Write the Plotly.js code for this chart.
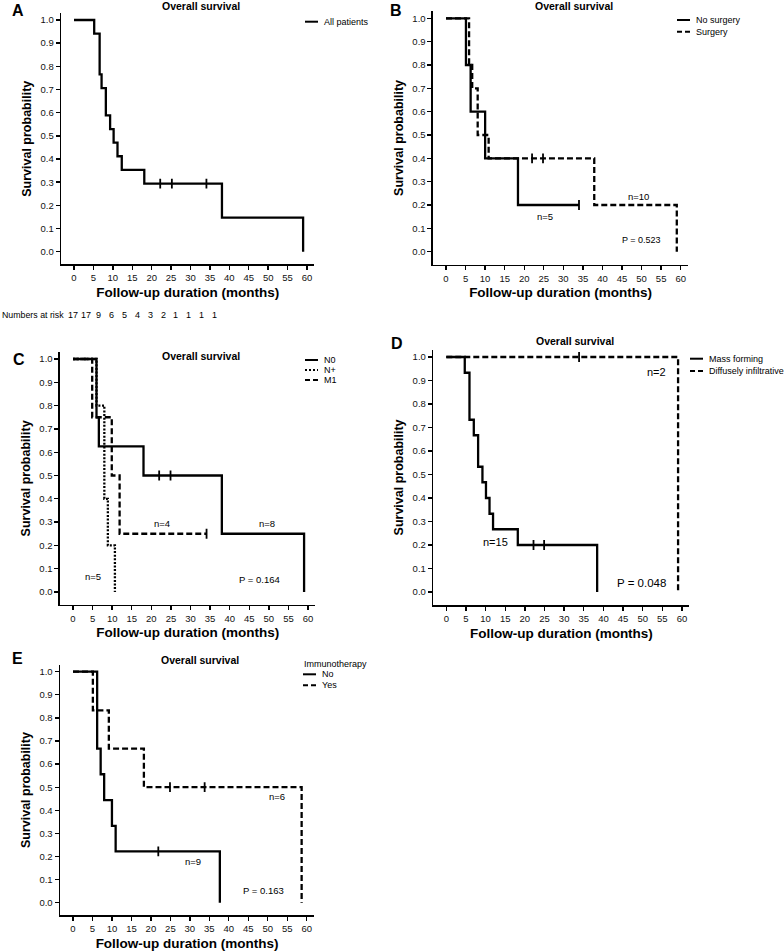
<!DOCTYPE html>
<html><head><meta charset="utf-8">
<script src="https://cdn.plot.ly/plotly-3.0.1.min.js"></script>
<style>html,body{margin:0;padding:0;background:#fff}#chart{width:784px;height:951px}</style>
</head><body><div id="chart"></div>
<script>
// ---------------- DATA ----------------
const xTickVals = [0,5,10,15,20,25,30,35,40,45,50,55,60];
const yTickVals = [0,0.1,0.2,0.3,0.4,0.5,0.6,0.7,0.8,0.9,1.0];
const panelTitle = "Overall survival";
const xTitle = "Follow-up duration (months)";
const yTitle = "Survival probability";

// Panel A: all patients
const allTimes = [0, 5.2, 6.6, 7.1, 8.2, 9.3, 10.2, 11.2, 12.3, 18.1, 38.1, 59.0];
const allSurv  = [1, 0.941, 0.765, 0.706, 0.588, 0.529, 0.471, 0.412, 0.353, 0.294, 0.147, 0];
const allCensor = [22.2, 25.2, 34.1];
const riskLabel = "Numbers at risk";
const numbersAtRisk = [17, 17, 9, 6, 5, 4, 3, 2, 1, 1, 1, 1];

// Panel B: surgery
const noSurgTimes = [0, 5.1, 6.3, 10.0, 18.4, 34.0];
const noSurgSurv  = [1, 0.8, 0.6, 0.4, 0.2, 0.2];
const noSurgCensor = [34.0];
const surgTimes = [0, 5.9, 6.7, 8.1, 10.9, 37.9, 59.0];
const surgSurv  = [1, 0.8, 0.7, 0.5, 0.4, 0.2, 0];
const surgCensor = [22.0, 24.8];

// Panel C: stage
const n0Times = [0, 6.0, 6.6, 18.0, 38.0, 59.0];
const n0Surv  = [1, 0.75, 0.625, 0.5, 0.25, 0];
const n0Censor = [22.0, 24.9];
const npTimes = [0, 6.0, 8.0, 8.9, 10.7];
const npSurv  = [1, 0.8, 0.4, 0.2, 0];
const npCensor = [];
const m1Times = [0, 4.9, 9.9, 11.9, 34.1];
const m1Surv  = [1, 0.75, 0.5, 0.25, 0.25];
const m1Censor = [34.1];

// Panel D: morphology
const massTimes = [0, 4.7, 5.9, 7.0, 8.1, 9.2, 10.1, 11.0, 11.9, 18.2, 38.4];
const massSurv  = [1, 0.933, 0.733, 0.667, 0.533, 0.467, 0.4, 0.333, 0.267, 0.2, 0];
const massCensor = [22.2, 24.9];
const diffTimes = [0, 59.0];
const diffSurv  = [1, 0];
const diffCensor = [33.8];

// Panel E: immunotherapy
const noImmTimes = [0, 6.2, 7.1, 8.0, 10.0, 10.95, 37.7];
const noImmSurv  = [1, 0.667, 0.556, 0.444, 0.333, 0.222, 0];
const noImmCensor = [21.9];
const yesImmTimes = [0, 5.1, 9.2, 18.2, 58.7];
const yesImmSurv  = [1, 0.833, 0.667, 0.5, 0];
const yesImmCensor = [24.9, 33.8];

// ---------------- LAYOUT HELPERS ----------------
const W = 784, H = 951;
const XR = [-3.3, 61.9], YR = [-0.055, 1.03];
const FONT = "Arial, 'Liberation Sans', Helvetica, sans-serif";
const geo = {
  A: {x0:74,    x60:307,   y1:20,    y0:251.7, ax:''},
  B: {x0:446,   x60:680.7, y1:18.3,  y0:251.7, ax:'2'},
  C: {x0:73,    x60:308,   y1:359,   y0:592,   ax:'3'},
  D: {x0:446.3, x60:682,   y1:357,   y0:592,   ax:'4'},
  E: {x0:73,    x60:306.7, y1:671.7, y0:902.7, ax:'5'}
};
const px = x => x / W;
const py = y => 1 - y / H;

function stepAt(times, surv, t) {
  let v = surv[0];
  for (let i = 0; i < times.length; i++) if (times[i] <= t) v = surv[i];
  return v;
}

const traces = [];
function addCurve(panel, times, surv, censor, dash) {
  const g = geo[panel];
  traces.push({
    type:'scatter', mode:'lines', x:times, y:surv,
    xaxis:'x'+g.ax, yaxis:'y'+g.ax, showlegend:false, hoverinfo:'skip',
    line:{shape:'hv', color:'#000', width:2.3, dash:dash}
  });
  if (censor.length) {
    traces.push({
      type:'scatter', mode:'markers', x:censor, y:censor.map(t => stepAt(times, surv, t)),
      xaxis:'x'+g.ax, yaxis:'y'+g.ax, showlegend:false, hoverinfo:'skip',
      marker:{symbol:'line-ns-open', size:7, color:'#000', line:{width:1.8, color:'#000'}}
    });
  }
}

const DASH = '6px,3px';
const DOT = '2px,1.6px';
addCurve('A', allTimes, allSurv, allCensor, 'solid');
addCurve('B', surgTimes, surgSurv, surgCensor, DASH);
addCurve('B', noSurgTimes, noSurgSurv, noSurgCensor, 'solid');
addCurve('C', m1Times, m1Surv, m1Censor, DASH);
addCurve('C', npTimes, npSurv, npCensor, DOT);
addCurve('C', n0Times, n0Surv, n0Censor, 'solid');
addCurve('D', diffTimes, diffSurv, diffCensor, DASH);
addCurve('D', massTimes, massSurv, massCensor, 'solid');
addCurve('E', yesImmTimes, yesImmSurv, yesImmCensor, DASH);
addCurve('E', noImmTimes, noImmSurv, noImmCensor, 'solid');

const layout = {
  width:W, height:H, margin:{l:0,r:0,t:0,b:0},
  paper_bgcolor:'#fff', plot_bgcolor:'#fff', showlegend:false,
  font:{family:FONT, color:'#000'},
  annotations:[], shapes:[]
};

Object.keys(geo).forEach(k => {
  const g = geo[k];
  const s = (g.x60 - g.x0) / 60;
  const sy = g.y0 - g.y1;
  const xd = [px(g.x0 + XR[0]*s), px(g.x0 + XR[1]*s)];
  const yd = [py(g.y0 - YR[0]*sy), py(g.y0 - YR[1]*sy)];
  const common = {
    showline:true, linecolor:'#000', linewidth:1.6, mirror:false,
    ticks:'outside', ticklen:4, tickwidth:1.4, tickcolor:'#000',
    showgrid:false, zeroline:false, fixedrange:true,
    tickfont:{family:FONT, size:9.5, color:'#111'}
  };
  layout['xaxis'+g.ax] = Object.assign({}, common, {
    domain:xd, range:XR, anchor:'y'+g.ax, tickvals:xTickVals,
    title:{text:'<b>'+xTitle+'</b>', font:{family:FONT, size:13.5, color:'#000'}, standoff:5}
  });
  layout['yaxis'+g.ax] = Object.assign({}, common, {
    domain:yd, range:YR, anchor:'x'+g.ax, tickvals:yTickVals, tickformat:'.1f',
    title:{text:'<b>'+yTitle+'</b>', font:{family:FONT, size:12.5, color:'#000'}, standoff:6}
  });
});

function txt(x, y, text, size, opts) {
  layout.annotations.push(Object.assign({
    xref:'paper', yref:'paper', x:px(x), y:py(y), text:text, showarrow:false,
    font:{family:FONT, size:size, color:'#000'}, xanchor:'center', yanchor:'middle'
  }, opts || {}));
}
function dtxt(panel, x, y, text, size) {
  const g = geo[panel];
  layout.annotations.push({
    xref:'x'+g.ax, yref:'y'+g.ax, x:x, y:y, text:text, showarrow:false,
    font:{family:FONT, size:size, color:'#000'}, xanchor:'center', yanchor:'middle'
  });
}
function legendItem(x, y, label, dash, size) {
  layout.shapes.push({type:'line', xref:'paper', yref:'paper',
    x0:px(x), x1:px(x+13), y0:py(y), y1:py(y),
    line:{color:'#000', width:2, dash:dash}});
  txt(x+17, y, label, size || 9, {xanchor:'left'});
}

// Panel labels and titles
const labels = [['A',18,0],['B',396,0],['C',19,349],['D',397,333],['E',17.5,648]];
labels.forEach(l => txt(l[1], l[2], '<b>'+l[0]+'</b>', 16, {yanchor:'top'}));
[[201,6],[574,6],[201,356],[575,341],[200,660]].forEach(p => txt(p[0], p[1], '<b>'+panelTitle+'</b>', 10.5));

// Legends
legendItem(305, 21.7, 'All patients', 'solid');
legendItem(677, 20, 'No surgery', 'solid');
legendItem(677, 31.7, 'Surgery', '5px,3px');
legendItem(305, 360, 'N0', 'solid');
legendItem(305, 370, 'N+', '2px,2px');
legendItem(305, 380, 'M1', '5px,3px');
legendItem(690, 358.7, 'Mass forming', 'solid');
legendItem(690, 371, 'Diffusely infiltrative', '5px,3px');
txt(301.7, 663.7, 'Immunotherapy', 9, {xanchor:'left'});
legendItem(303, 674.3, 'No', 'solid');
legendItem(303, 685.3, 'Yes', '5px,3px');

// Numbers at risk
txt(0, 315, riskLabel, 8.8, {xanchor:'left'});
numbersAtRisk.forEach((n, i) => txt(72.7 + i*12.9, 315, String(n), 9));

// In-plot annotations
dtxt('B', 49.3, 0.236, 'n=10', 9.5);
dtxt('B', 25.3, 0.15, 'n=5', 9.5);
dtxt('B', 50.1, 0.05, 'P = 0.523', 9);
dtxt('C', 22.6, 0.292, 'n=4', 9.5);
dtxt('C', 49.5, 0.292, 'n=8', 9.5);
dtxt('C', 5.2, 0.066, 'n=5', 9.5);
dtxt('C', 47.7, 0.055, 'P = 0.164', 9.5);
dtxt('D', 53.6, 0.937, 'n=2', 11);
dtxt('D', 12.5, 0.213, 'n=15', 11);
dtxt('D', 49.8, 0.037, 'P = 0.048', 11.5);
dtxt('E', 52.3, 0.459, 'n=6', 9.5);
dtxt('E', 30.9, 0.177, 'n=9', 9.5);
dtxt('E', 48.9, 0.051, 'P = 0.163', 9.5);

Plotly.newPlot('chart', traces, layout, {staticPlot:true, displayModeBar:false});
</script>
</body></html>
